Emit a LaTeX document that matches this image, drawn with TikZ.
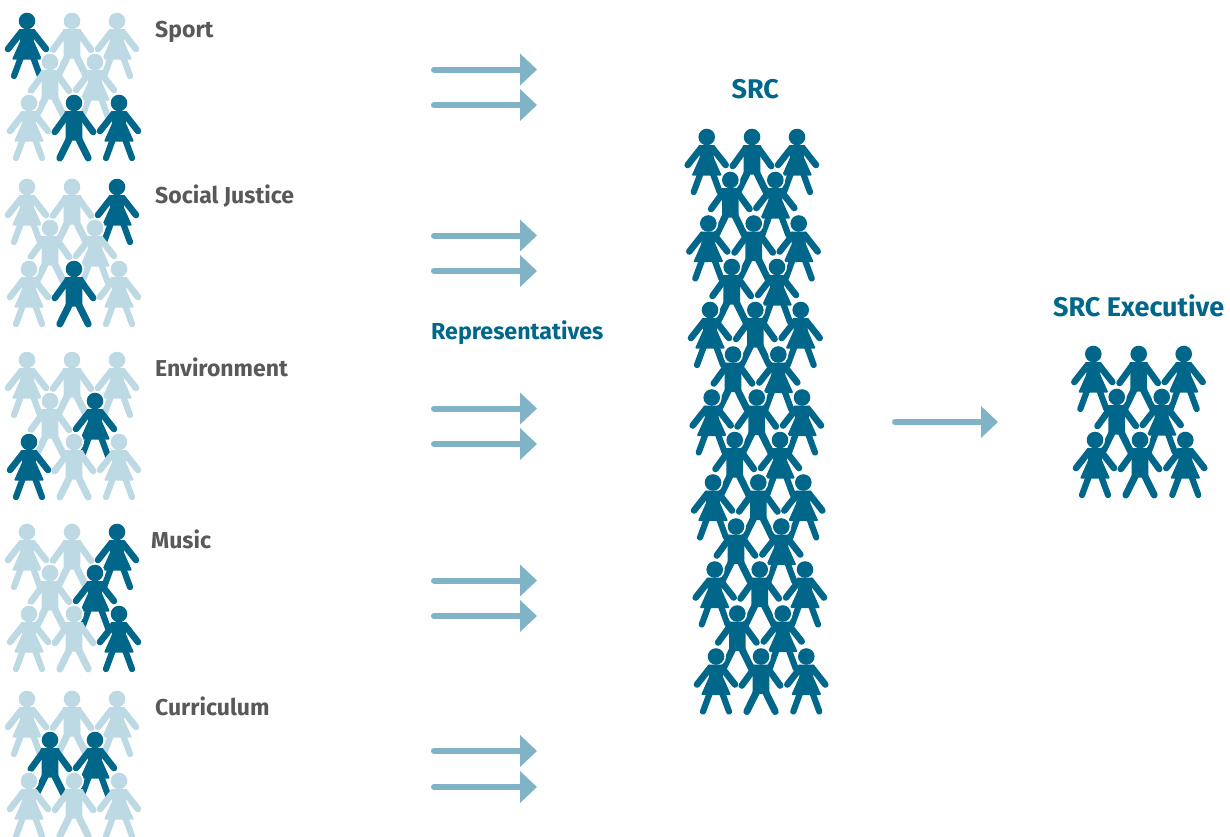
\documentclass[tikz,border=0pt]{standalone}
\usepackage{fontspec}
\setmainfont{Fira Sans}
\usetikzlibrary{arrows.meta}
\definecolor{dk}{HTML}{00678A}
\definecolor{lt}{HTML}{BDD9E4}
\definecolor{arrowc}{HTML}{80B3C6}
\definecolor{greytext}{HTML}{58595B}
\tikzset{
  limb/.style={line width=6.6pt,line cap=round,line join=round},
  flow/.style={draw=arrowc,line width=6pt,line cap=round,-{Triangle[length=17pt,width=31pt]}},
  grouplabel/.style={anchor=base west,inner sep=0pt,text=greytext,font=\bfseries\fontsize{23}{23}\selectfont},
  bodylabel/.style={anchor=base west,inner sep=0pt,text=dk,font=\bfseries\fontsize{27}{27}\selectfont},
  replabel/.style={anchor=base west,inner sep=0pt,text=dk,font=\bfseries\fontsize{23.2}{23}\selectfont},
}
\newcommand{\headshape}[1]{%
  \fill[white] (0,0) circle (10);
  \fill[#1] (0,0) circle (8.3);
}
\newcommand{\girl}[3]{%
  \begin{scope}[shift={(#1,#2)}]
    \headshape{#3}
    \draw[limb,line width=6.2pt,#3] (-6,36) -- (-13,55) (6,36) -- (13,55);
    \draw[limb,#3] (-6,11.5) -- (-19,28) (6,11.5) -- (19,28);
    \fill[#3,rounded corners=1pt] (-8.5,8) -- (8.5,8) -- (6.8,20) -- (15,38.5) -- (-15,38.5) -- (-6.8,20) -- cycle;
  \end{scope}}
\newcommand{\boy}[3]{%
  \begin{scope}[shift={(#1,#2)}]
    \headshape{#3}
    \draw[limb,line width=7pt,#3] (-4.8,36) -- (-14.2,55) (4.8,36) -- (14.2,55);
    \draw[limb,#3] (-6.5,11.5) -- (-19.2,29) (6.5,11.5) -- (19.2,29);
    \fill[#3,rounded corners=1pt] (-9.5,8) -- (9.5,8) -- (8.3,20) -- (8.3,37.5) -- (-8.3,37.5) -- (-8.3,20) -- cycle;
  \end{scope}}
\newcommand{\crowd}[9]{%
  \begin{scope}[shift={(0,#1)}]
    \girl{27}{21}{#2}\boy{72}{21}{#3}\girl{117}{21}{#4}
    \boy{50}{62}{#5}\girl{95}{62}{#6}
    \girl{29}{103}{#7}\boy{74}{103}{#8}\girl{119}{103}{#9}
  \end{scope}}
\newcommand{\flowarrow}[4]{%
  \coordinate (#1s) at (#2,#4);
  \coordinate (#1e) at (#3,#4);
  \draw[flow] (#1s) -- (#1e);}
\begin{document}
\begin{tikzpicture}[x=1pt,y=-1pt]
\useasboundingbox (0,0) rectangle (1230,836);
\clip (0,0) rectangle (1230,836);
% left groups
\crowd{0}{dk}{lt}{lt}{lt}{lt}{lt}{dk}{dk}
\crowd{166}{lt}{lt}{dk}{lt}{lt}{lt}{dk}{lt}
\crowd{339}{lt}{lt}{lt}{lt}{dk}{dk}{lt}{lt}
\crowd{511}{lt}{lt}{dk}{lt}{dk}{lt}{lt}{dk}
\crowd{678}{lt}{lt}{lt}{dk}{dk}{lt}{lt}{lt}
\node[grouplabel] (sport) at (155,37) {Sport};
\node[grouplabel] (social) at (155,203) {Social Justice};
\node[grouplabel] (env) at (155,376) {Environment};
\node[grouplabel] (music) at (151,548) {Music};
\node[grouplabel] (curr) at (155,715) {Curriculum};
% arrows
\flowarrow{a1}{434}{537}{69.5}\flowarrow{a2}{434}{537}{105}
\flowarrow{b1}{434}{537}{235.5}\flowarrow{b2}{434}{537}{271}
\flowarrow{c1}{434}{537}{408.5}\flowarrow{c2}{434}{537}{444}
\flowarrow{d1}{434}{537}{580.5}\flowarrow{d2}{434}{537}{616}
\flowarrow{e1}{434}{537}{751}\flowarrow{e2}{434}{537}{787}
\flowarrow{f1}{895}{998}{422}
\node[replabel] (rep) at (431,339) {Representatives};
\node[bodylabel] (src) at (731.5,98) {SRC};
\node[bodylabel] (exec) at (1053,316) {SRC Executive};
% SRC column
\girl{706.7}{137}{dk}\boy{752}{137}{dk}\girl{797}{137}{dk}
\boy{730.3}{180}{dk}\girl{775.3}{180}{dk}
\girl{708.3}{223.5}{dk}\boy{753.7}{223.5}{dk}\girl{798.7}{223.5}{dk}
\boy{731.7}{267}{dk}\girl{777}{267}{dk}
\girl{710}{310}{dk}\boy{755.3}{310}{dk}\girl{800.7}{310}{dk}
\boy{733}{354.5}{dk}\girl{778.3}{354.5}{dk}
\girl{711.7}{397.5}{dk}\boy{756.7}{397.5}{dk}\girl{802}{397.5}{dk}
\boy{734.7}{440}{dk}\girl{780}{440}{dk}
\girl{713}{482.5}{dk}\boy{758.3}{482.5}{dk}\girl{803.3}{482.5}{dk}
\boy{736}{526.5}{dk}\girl{781.3}{526.5}{dk}
\girl{714.7}{569.5}{dk}\boy{759.7}{569.5}{dk}\girl{805}{569.5}{dk}
\boy{737.3}{613.5}{dk}\girl{782.7}{613.5}{dk}
\girl{716}{656.5}{dk}\boy{761}{656.5}{dk}\girl{806.3}{656.5}{dk}
% Executive
\girl{1093.3}{354}{dk}\boy{1138.7}{354}{dk}\girl{1183.7}{354}{dk}
\boy{1116.7}{397}{dk}\girl{1161.7}{397}{dk}
\girl{1095}{440}{dk}\boy{1140}{440}{dk}\girl{1185.3}{440}{dk}
\end{tikzpicture}
\end{document}
